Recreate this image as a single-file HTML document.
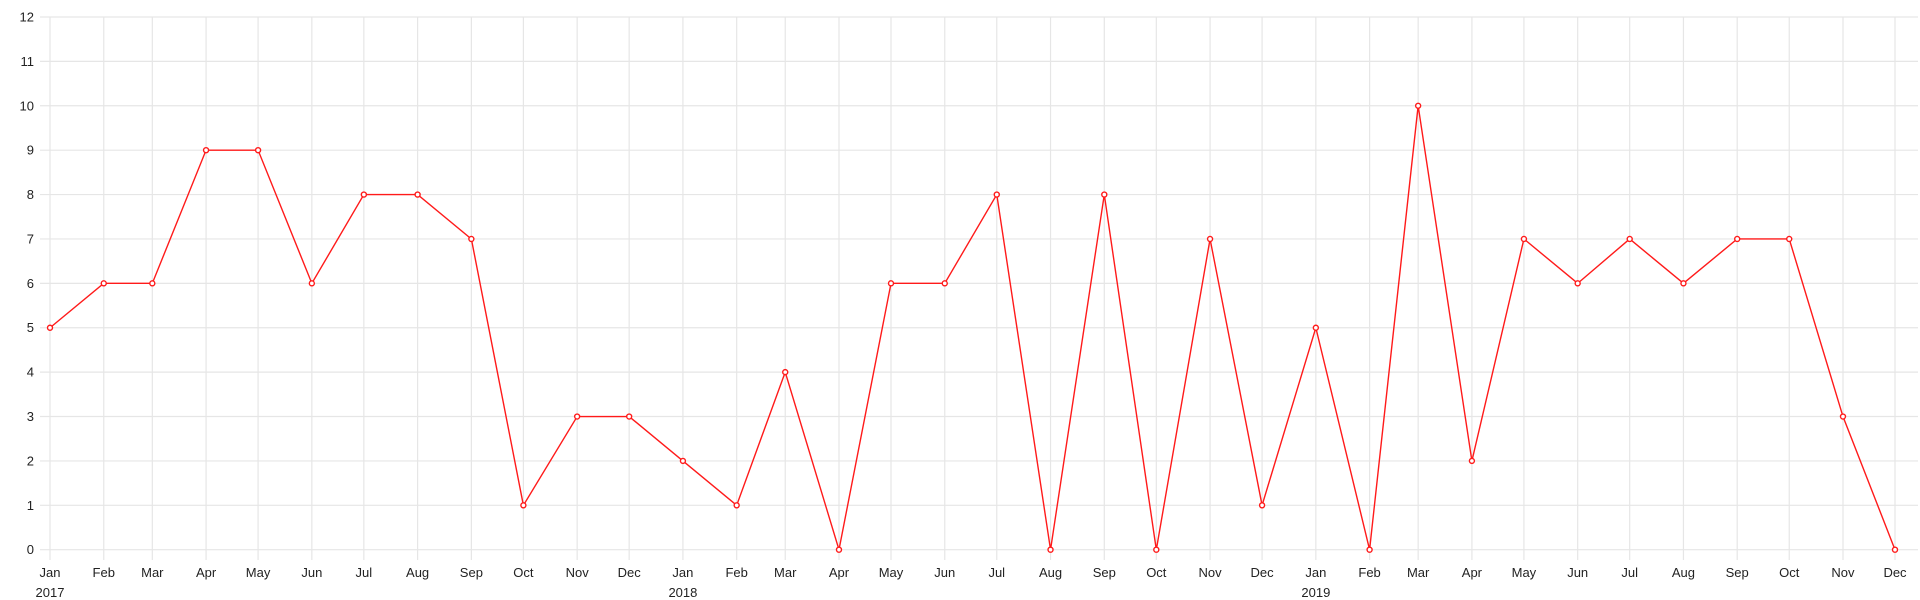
<!DOCTYPE html>
<html><head><meta charset="utf-8"><style>
html,body{margin:0;padding:0;background:#fff;}
svg{display:block;font-family:"Liberation Sans","DejaVu Sans",sans-serif;}
</style></head><body>
<svg id="chart" width="1920" height="600" viewBox="0 0 1920 600" xmlns="http://www.w3.org/2000/svg">
<g id="grid"></g>
<g id="axes"></g>
<g id="series"></g>
</svg>
<script>
const years = [2017, 2018, 2019];
const monthLabels = ["Jan","Feb","Mar","Apr","May","Jun","Jul","Aug","Sep","Oct","Nov","Dec"];
const values2017 = [5,6,6,9,9,6,8,8,7,1,3,3];
const values2018 = [2,1,4,0,6,6,8,0,8,0,7,1];
const values2019 = [5,0,10,2,7,6,7,6,7,7,3,0];
const yTicks = [0,1,2,3,4,5,6,7,8,9,10,11,12];

const NS = "http://www.w3.org/2000/svg";
const t0 = Date.UTC(2017,0,1), t1 = Date.UTC(2019,11,1);
const X0 = 50, X1 = 1895, Y0 = 549.7, Y1 = 17, YMAX = 12;
function x(y, m){ return X0 + (Date.UTC(y,m,1) - t0) / (t1 - t0) * (X1 - X0); }
function yS(v){ return Y0 - v / YMAX * (Y0 - Y1); }
function mk(tag, attrs, parent){ const e = document.createElementNS(NS, tag); for (const k in attrs) e.setAttribute(k, attrs[k]); parent.appendChild(e); return e; }
const grid = document.getElementById("grid"), axes = document.getElementById("axes"), series = document.getElementById("series");

yTicks.forEach(v => {
  const l = mk("line", {x1: 40, x2: 1918, y1: yS(v), y2: yS(v), stroke: "#e6e6e6", "stroke-width": 1.2}, grid);
  
  
  const t = mk("text", {x: 34, y: yS(v) + 4.5, "text-anchor": "end", "font-size": 13, fill: "#222"}, axes);
  t.textContent = v;
  
  
});

const allValues = [values2017, values2018, values2019];
const pts = [];
years.forEach((yr, yi) => {
  monthLabels.forEach((ml, mi) => {
    const px = x(yr, mi);
    const g = mk("line", {x1: px, x2: px, y1: Y1, y2: 560, stroke: "#e6e6e6", "stroke-width": 1.2}, grid);
    
    
    const t = mk("text", {x: px, y: 577, "text-anchor": "middle", "font-size": 13, fill: "#222"}, axes);
    t.textContent = ml;
    
    
    if (mi === 0) {
      const yt = mk("text", {x: px, y: 597, "text-anchor": "middle", "font-size": 13, fill: "#222"}, axes);
      yt.textContent = yr;
      
      
    }
    pts.push([px, yS(allValues[yi][mi])]);
  });
});

const path = mk("polyline", {points: pts.map(p => p.join(",")).join(" "), fill: "none", stroke: "#ff1a1a", "stroke-width": 1.4}, series);


pts.forEach(p => {
  const c = mk("circle", {cx: p[0], cy: p[1], r: 2.5, fill: "#fff", stroke: "#ff1a1a", "stroke-width": 1.4}, series);
  
  
});
</script>
</body></html>
